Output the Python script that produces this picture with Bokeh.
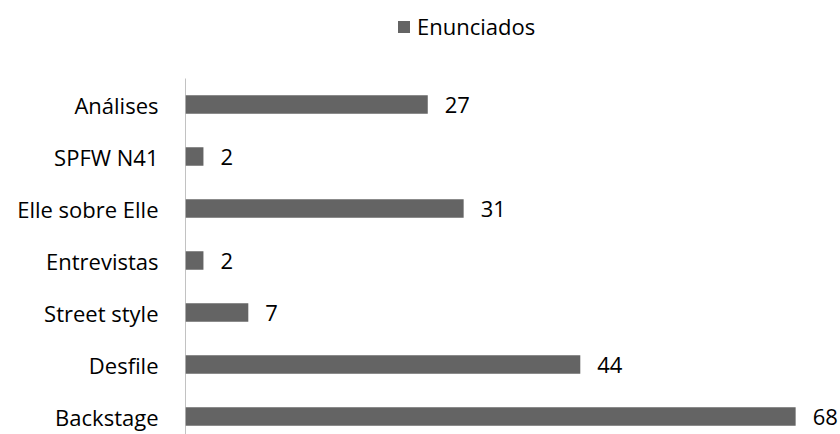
from bokeh.plotting import figure
from bokeh.models import Range1d, FixedTicker, ColumnDataSource, Legend, LegendItem
from bokeh.core.properties import value
from bokeh.embed import file_html
from bokeh.resources import INLINE

categories = ["Backstage", "Desfile", "Street style", "Entrevistas", "Elle sobre Elle", "SPFW N41", "Análises"]
values = [68, 44, 7, 2, 31, 2, 27]
series_name = "Enunciados"

FONT = "Open Sans"
BAR_COLOR = "#646464"

pos = list(range(len(categories)))
src = ColumnDataSource(dict(y=pos, v=values, lbl=[str(v) for v in values]))

Y_START = -0.346
AXIS_TOP = len(categories) - 0.5
Y_END = 8.0

p = figure(width=840, height=434, output_backend="svg", toolbar_location=None,
           x_range=Range1d(0, 73.0), y_range=Range1d(Y_START, Y_END),
           min_border_left=185, min_border_right=0, min_border_top=0, min_border_bottom=0)
p.outline_line_color = None
p.grid.visible = False
p.xaxis.visible = False
p.background_fill_color = "white"
p.border_fill_color = "white"

# vertical category axis line (only spans the category area)
p.segment(x0=[0], y0=[Y_START], x1=[0], y1=[AXIS_TOP], line_color="#868686", line_width=1)

bars = p.hbar(y="y", right="v", left=0, height=0.36, source=src,
              fill_color=BAR_COLOR, line_color=None)
p.text(x="v", y="y", text="lbl", source=src, x_offset=17,
       text_baseline="middle", text_align="left",
       text_font=value(FONT), text_font_size="22px", text_color="#000000")

ax = p.yaxis[0]
ax.ticker = FixedTicker(ticks=pos)
ax.major_label_overrides = {i: c for i, c in zip(pos, categories)}
ax.major_tick_line_color = None
ax.minor_tick_line_color = None
ax.axis_line_color = None
ax.major_label_standoff = 21
ax.major_label_text_font = FONT
ax.major_label_text_font_size = "22px"
ax.major_label_text_color = "#000000"

legend = Legend(items=[LegendItem(label=series_name, renderers=[bars])],
                location=(211, 393), orientation="horizontal",
                glyph_width=15, glyph_height=15, label_standoff=6,
                padding=0, margin=0, border_line_color=None,
                background_fill_alpha=0,
                label_text_font=FONT, label_text_font_size="22px",
                label_text_color="#000000")
p.add_layout(legend, "center")

open("out.html", "w").write(file_html(p, INLINE))
